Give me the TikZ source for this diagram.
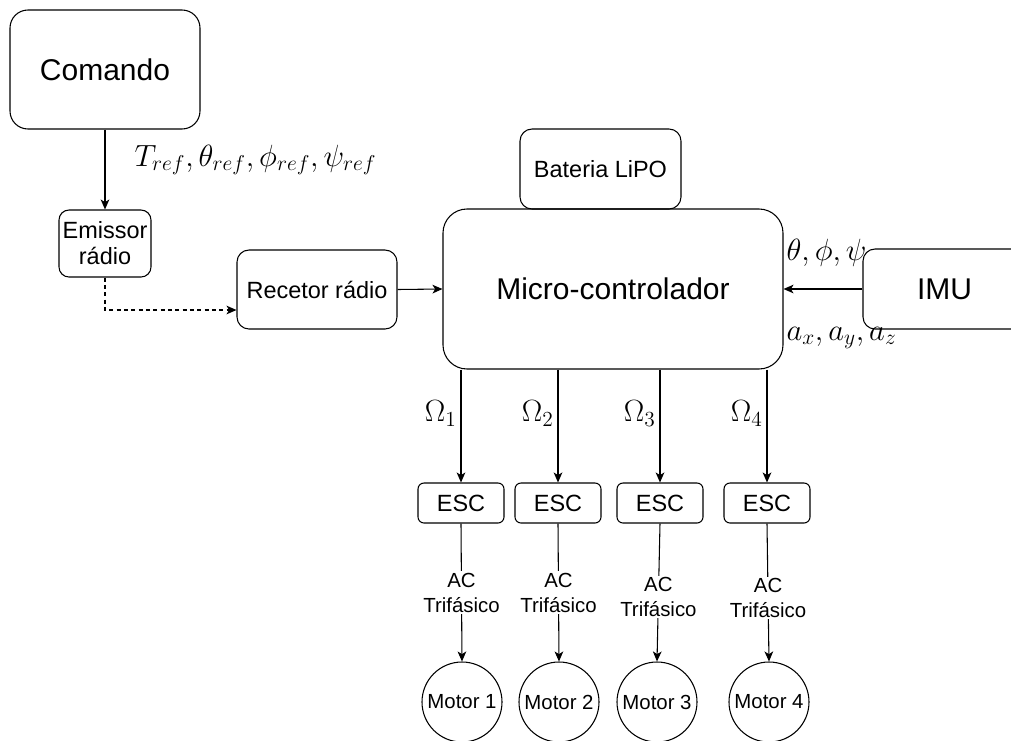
\documentclass[tikz,border=0pt]{standalone}
\usepackage{fix-cm}
\usepackage{fontspec}
\setmainfont{Liberation Sans}
\usetikzlibrary{arrows.meta,calc}
\begin{document}
\begin{tikzpicture}[x=0.75pt,y=-0.75pt, line width=0.8pt,
 box/.style={draw, rectangle, inner sep=0pt, align=center},
 arr/.style={-{Stealth[length=7.5pt,width=6.5pt,inset=2pt]}},
 big/.style={font=\fontsize{22.5}{27}\selectfont},
 mid/.style={font=\fontsize{17.6}{19.5}\selectfont},
 small/.style={font=\fontsize{15.3}{18.75}\selectfont},
 mathlbl/.style={font=\fontsize{23}{27}\selectfont, inner sep=0pt},
 escbox/.style={box,mid,minimum width=64.5pt,minimum height=30pt,rounded corners=4.5pt},
 motor/.style={draw,circle,small,minimum size=60pt,inner sep=0pt},
 aclbl/.style={midway,fill=white,small,align=center,inner sep=1pt}]
\useasboundingbox (0,0) rectangle (1011,740);
\clip (0,0) rectangle (1011,740);

\node[box,big,minimum width=142.5pt,minimum height=89.25pt,rounded corners=13.5pt] (com) at (105,69.5) {Comando};
\node[box,mid,minimum width=69pt,minimum height=50.25pt,rounded corners=7.5pt] (em) at (105,243.5) {Emissor\\rádio};
\node[box,mid,minimum width=120pt,minimum height=59.25pt,rounded corners=9pt] (rec) at (317,289.5) {Recetor rádio};
\node[box,mid,minimum width=120.75pt,minimum height=60pt,rounded corners=9pt] (bat) at (600.5,169) {Bateria LiPO};
\node[box,big,minimum width=255pt,minimum height=120pt,rounded corners=18pt] (mc) at (613,289) {Micro-controlador};
\node[box,big,minimum width=122.25pt,minimum height=60pt,rounded corners=9pt] (imu) at (944.5,289) {IMU};

\node[escbox] (e1) at (461,503) {ESC};
\node[escbox] (e2) at (558,503) {ESC};
\node[escbox] (e3) at (660,503) {ESC};
\node[escbox] (e4) at (767,503) {ESC};

\node[motor] (m1) at (462,702) {Motor 1};
\node[motor] (m2) at (559,702) {Motor 2};
\node[motor] (m3) at (657,702) {Motor 3};
\node[motor] (m4) at (769,702) {Motor 4};

\draw[arr] (com.south) -- (em.north);
\node[mathlbl,anchor=west] (tl) at (134,160) {$T_{ref},\theta_{ref},\phi_{ref},\psi_{ref}$};
\draw[arr,dash pattern=on 3pt off 2.5pt] (em.south) |- ($(rec.west)+(0,20.5)$);
\draw[arr] (rec.east) -- (mc.west);
\draw[arr] (imu.west) -- (imu.west -| mc.east);
\node[mathlbl,anchor=west] (ang) at (786,253) {$\theta,\phi,\psi$};
\node[mathlbl,anchor=west] (acc) at (786,338) {$a_x,a_y,a_z$};

\draw[arr] (e1.north |- mc.south) -- node[pos=0.39,left,mathlbl,inner sep=3pt] {$\Omega_1$} (e1.north);
\draw[arr] (e2.north |- mc.south) -- node[pos=0.39,left,mathlbl,inner sep=3pt] {$\Omega_2$} (e2.north);
\draw[arr] (e3.north |- mc.south) -- node[pos=0.39,left,mathlbl,inner sep=3pt] {$\Omega_3$} (e3.north);
\draw[arr] (e4.north |- mc.south) -- node[pos=0.39,left,mathlbl,inner sep=3pt] {$\Omega_4$} (e4.north);

\draw[arr] (e1.south) -- node[aclbl] {AC\\Trifásico} (m1.north);
\draw[arr] (e2.south) -- node[aclbl] {AC\\Trifásico} (m2.north);
\draw[arr] (e3.south) -- node[aclbl,pos=0.53] {AC\\Trifásico} (m3.north);
\draw[arr] (e4.south) -- node[aclbl,pos=0.54] {AC\\Trifásico} (m4.north);
\end{tikzpicture}
\end{document}
